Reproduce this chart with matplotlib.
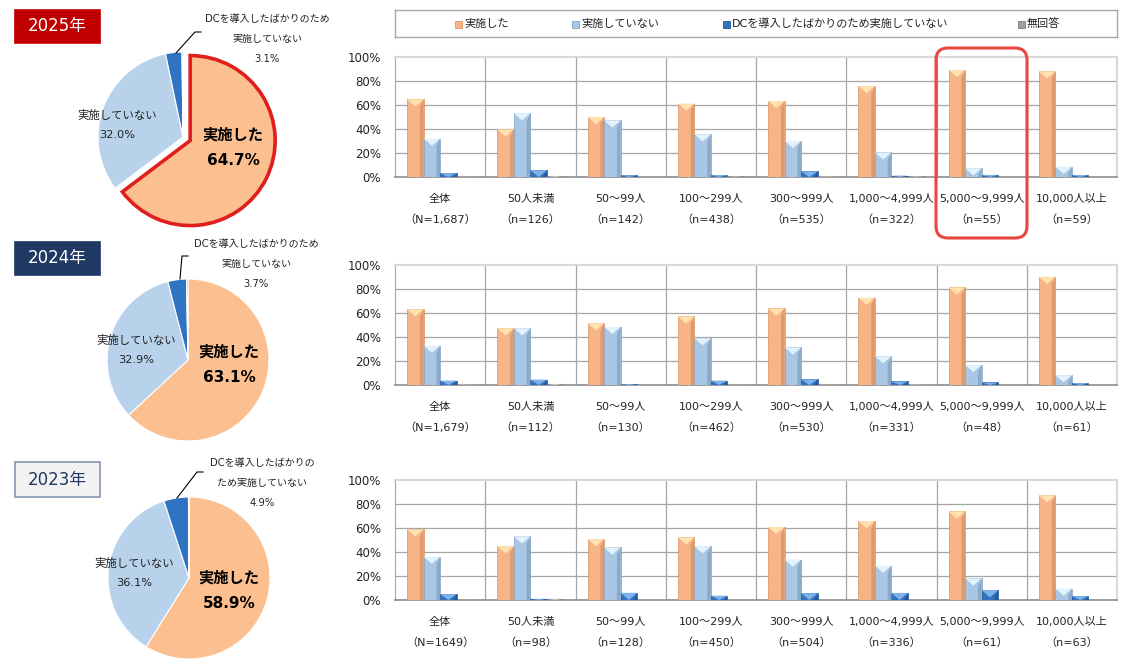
import matplotlib
matplotlib.use("Agg")
import matplotlib.pyplot as plt
from matplotlib.patches import Rectangle, FancyBboxPatch, Polygon
import numpy as np

plt.rcParams['font.family'] = ['DejaVu Sans', 'Noto Sans CJK JP']

# ---------------- data ----------------
years = ['2025年', '2024年', '2023年']
series = ['実施した', '実施していない', 'DCを導入したばかりのため実施していない', '無回答']
categories = ['全体', '50人未満', '50～99人', '100～299人', '300～999人',
              '1,000～4,999人', '5,000～9,999人', '10,000人以上']

n_2025 = ['N=1,687', 'n=126', 'n=142', 'n=438', 'n=535', 'n=322', 'n=55', 'n=59']
n_2024 = ['N=1,679', 'n=112', 'n=130', 'n=462', 'n=530', 'n=331', 'n=48', 'n=61']
n_2023 = ['N=1649', 'n=98', 'n=128', 'n=450', 'n=504', 'n=336', 'n=61', 'n=63']

did_2025 = [64.7, 39.7, 50.0, 61.2, 63.4, 75.8, 89.1, 88.1]
not_2025 = [32.0, 53.2, 47.2, 35.6, 30.1, 20.5, 7.3, 8.5]
dc_2025 = [3.1, 5.6, 1.4, 1.6, 4.7, 1.2, 1.8, 1.7]
na_2025 = [0.2, 0.8, 0.0, 0.5, 0.4, 0.6, 0.0, 0.0]

did_2024 = [63.1, 47.3, 51.5, 57.1, 63.8, 72.8, 81.3, 90.2]
not_2024 = [32.9, 47.3, 48.5, 39.0, 31.3, 23.9, 16.7, 8.2]
dc_2024 = [3.7, 4.5, 0.8, 3.7, 4.7, 3.0, 2.1, 1.6]
na_2024 = [0.3, 0.9, 0.0, 0.2, 0.2, 0.3, 0.0, 0.0]

did_2023 = [58.9, 44.9, 50.8, 52.2, 60.9, 65.8, 73.8, 87.3]
not_2023 = [36.1, 53.1, 43.8, 44.9, 33.7, 28.6, 18.0, 9.5]
dc_2023 = [4.9, 1.0, 6.0, 3.6, 5.6, 5.9, 8.2, 3.2]
na_2023 = [0.1, 1.0, 0.0, 0.0, 0.0, 0.0, 0.0, 0.0]

pie_2025 = [64.7, 32.0, 3.1, 0.2]
pie_2024 = [63.1, 32.9, 3.7, 0.3]
pie_2023 = [58.9, 36.1, 4.9, 0.1]

pie_main_labels = ['実施した\n{:.1f}%', '実施していない\n{:.1f}%']
dc_label_2025 = 'DCを導入したばかりのため\n実施していない\n{:.1f}%'
dc_label_2024 = 'DCを導入したばかりのため\n実施していない\n{:.1f}%'
dc_label_2023 = 'DCを導入したばかりの\nため実施していない\n{:.1f}%'

# ---------------- style ----------------
W, H = 1140, 667
bar_face = ['#F7B486', '#A9C6E4', '#3272C0', '#A0A0A0']
bar_top = ['#FFE2B0', '#E2F3FD', '#7FB2EA', '#D0D0D0']
bar_side = ['#D99466', '#84A3C4', '#22559A', '#7E7E7E']
pie_colors = ['#FBBF90', '#B8D2EC', '#2E74C2', '#9A9A9A']
grid_c = '#A6A6A6'
txt_c = '#222222'


def fbox(l, t, w, h):
    return [l / W, 1 - (t + h) / H, w / W, h / H]


fig = plt.figure(figsize=(W / 100, H / 100), dpi=100)
fig.patch.set_facecolor('white')

# ---------------- bar charts ----------------
bar_rows = [
    (57, [did_2025, not_2025, dc_2025, na_2025], n_2025),
    (265, [did_2024, not_2024, dc_2024, na_2024], n_2024),
    (480, [did_2023, not_2023, dc_2023, na_2023], n_2023),
]
ax_left, ax_right = 395, 1117
bw = 0.183
offsets = [-1.5 * bw, -0.5 * bw, 0.5 * bw, 1.5 * bw]

for top, vals, ns in bar_rows:
    ax = fig.add_axes(fbox(ax_left, top, ax_right - ax_left, 120))
    x = np.arange(len(categories))
    ax.set_xlim(-0.5, len(categories) - 0.5)
    ax.set_ylim(0, 100)
    for y in [20, 40, 60, 80]:
        ax.axhline(y, color=grid_c, lw=0.9, zorder=1)
    for b in np.arange(0.5, len(categories) - 0.5, 1):
        ax.axvline(b, color=grid_c, lw=0.9, zorder=1)
    for k, v in enumerate(vals):
        bars = ax.bar(x + offsets[k], v, width=bw, color=bar_face[k],
                      edgecolor=bar_side[k], linewidth=0.5, zorder=3)
        for p in bars:
            x0, w, h = p.get_x(), p.get_width(), p.get_height()
            if h <= 0:
                continue
            d = min(6.0, h)
            ax.add_patch(Polygon([(x0 + w * 0.78, 0), (x0 + w, 0), (x0 + w, h),
                                  (x0 + w * 0.78, max(h - d, 0))],
                                 closed=True, facecolor=bar_side[k],
                                 edgecolor='none', zorder=4, alpha=0.8))
            ax.add_patch(Polygon([(x0, h), (x0 + w, h), (x0 + w / 2, h - d)],
                                 closed=True, facecolor=bar_top[k],
                                 edgecolor='none', zorder=4))
    ax.set_yticks([0, 20, 40, 60, 80, 100])
    ax.set_yticklabels(['0%', '20%', '40%', '60%', '80%', '100%'], fontsize=8.5,
                       color=txt_c)
    ax.set_xticks(x)
    ax.set_xticklabels([f'{c}\n（{n}）' for c, n in zip(categories, ns)],
                       fontsize=8, linespacing=2.3, color=txt_c)
    ax.tick_params(axis='both', length=0)
    ax.tick_params(axis='y', pad=10)
    ax.tick_params(axis='x', pad=12)
    ax.spines['left'].set_color(grid_c)
    ax.spines['bottom'].set_color('#8C8C8C')
    ax.spines['bottom'].set_linewidth(1.2)
    ax.spines['top'].set_color('#D9D9D9')
    ax.spines['right'].set_color('#D9D9D9')
    ax.spines['top'].set_linewidth(1.5)
    ax.spines['right'].set_linewidth(1.5)

# ---------------- legend ----------------
lax = fig.add_axes(fbox(395, 10, 722, 27))
lax.set_xlim(395, 1117)
lax.set_ylim(37, 10)
lax.set_xticks([])
lax.set_yticks([])
for s in lax.spines.values():
    s.set_color('#A6A6A6')
    s.set_linewidth(1)
leg_x = [455, 572, 723, 1018]
for k, lab in enumerate(series):
    lax.add_patch(Rectangle((leg_x[k], 20.5), 7, 7, facecolor=bar_face[k],
                            edgecolor=bar_side[k], lw=0.6))
    lax.text(leg_x[k] + 9, 23.5, lab, fontsize=8, va='center', ha='left', color=txt_c)

# ---------------- pies ----------------
pie_rows = [
    (183, 137, 85, pie_2025, True),
    (188, 360, 81, pie_2024, False),
    (189, 578, 81, pie_2023, False),
]
S = 105
for cx, cy, r, vals, hl in pie_rows:
    pax = fig.add_axes(fbox(cx - S, cy - S, 2 * S, 2 * S))
    explode = [8.0 / r if hl else 0, 0, 0, 0]
    wedges, _ = pax.pie(vals, colors=pie_colors, startangle=90, counterclock=False,
                        explode=explode, radius=1.0,
                        wedgeprops=dict(edgecolor='white', linewidth=0.8))
    if hl:
        wedges[0].set_edgecolor('#E01E1E')
        wedges[0].set_linewidth(2.6)
    pax.set_xlim(-S / r, S / r)
    pax.set_ylim(-S / r, S / r)
    pax.set_aspect('equal')
    pax.axis('off')

# ---------------- overlay (pixel coords) ----------------
ov = fig.add_axes([0, 0, 1, 1], zorder=10)
ov.set_xlim(0, W)
ov.set_ylim(H, 0)
ov.axis('off')
ov.patch.set_alpha(0)

year_boxes = [
    (10, 33, '#C00000', '#C00000', 'white'),
    (242, 33, '#1F3864', '#1F3864', 'white'),
    (462, 35, '#F2F2F2', '#8497B0', '#1F3864'),
]
for (t, h, fc, ec, tc), yr in zip(year_boxes, years):
    ov.add_patch(Rectangle((15, t), 85, h, facecolor=fc, edgecolor=ec, lw=1.2))
    ov.text(57.5, t + h / 2, yr, fontsize=12, color=tc, ha='center', va='center')

main_pos = [((233, 148), (117, 125)), ((229, 365), (136, 350)), ((229, 591), (134, 573))]
dc_pos = [(267, 39), (256, 264), (262, 483)]
dc_labels = [dc_label_2025, dc_label_2024, dc_label_2023]
pies = [pie_2025, pie_2024, pie_2023]
for (p1, p2), dp, dl, pv in zip(main_pos, dc_pos, dc_labels, pies):
    ov.text(p1[0], p1[1], pie_main_labels[0].format(pv[0]), fontsize=11,
            fontweight='bold', ha='center', va='center', linespacing=1.9)
    ov.text(p2[0], p2[1], pie_main_labels[1].format(pv[1]), fontsize=8.2,
            ha='center', va='center', linespacing=2.1, color=txt_c)
    ov.text(dp[0], dp[1], dl.format(pv[2]), fontsize=7.2, ha='center',
            va='center', linespacing=2.3, color=txt_c)

leaders = [
    [(176, 53), (195, 32), (201, 32)],
    [(180, 279), (182, 256), (188, 256)],
    [(177, 498), (197, 472), (203, 472)],
]
for pts in leaders:
    xs, ys = zip(*pts)
    ov.plot(xs, ys, color='black', lw=0.8)

ov.add_patch(FancyBboxPatch((936, 48), 91, 190,
                            boxstyle='round,pad=0,rounding_size=12',
                            facecolor='none', edgecolor='#E8463E', lw=2.2))

fig.savefig('out.png', dpi=100, facecolor='white')
